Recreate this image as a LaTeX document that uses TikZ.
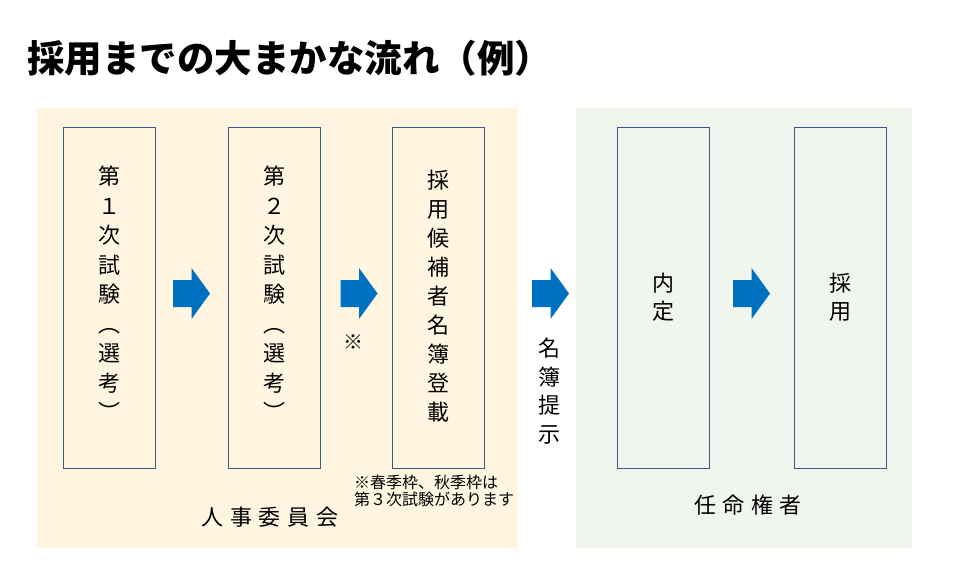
\documentclass[tikz,border=0pt]{standalone}
\usepackage{fontspec}
\setmainfont{Noto Sans CJK JP}
\usetikzlibrary{positioning,calc}

\definecolor{arrowblue}{HTML}{0070C0}
\definecolor{boxline}{HTML}{3C5A82}
\definecolor{creamfill}{HTML}{FFF5E1}
\definecolor{greenfill}{HTML}{F0F5EE}

\newcommand{\blockarrow}[1]{%
  \fill[arrowblue] ($(#1)+(-18.5,-13.5)$) -- ++(18.5,0) -- ++(0,-12) -- ++(18.5,25.5)
    -- ++(-18.5,25.5) -- ++(0,-12) -- ++(-18.5,0) -- cycle;}

\begin{document}
\begin{tikzpicture}[x=1pt, y=-1pt, node distance=73pt]
\tikzstyle{stage}=[draw=boxline, line width=0.8pt, minimum width=92pt, minimum height=341pt, inner sep=0pt, outer sep=0pt]
\tikzstyle{vtext}=[align=center, inner sep=0pt, font=\fontsize{22}{29.5}\selectfont]
\tikzstyle{panel}=[inner sep=0pt, anchor=north west]
\tikzstyle{group}=[inner sep=0pt, font=\fontsize{22}{26}\selectfont\addfontfeature{LetterSpace=30}]

\useasboundingbox (0,0) rectangle (960,562);
% panels
\node[panel, fill=creamfill, minimum width=481pt, minimum height=440pt] (jinji) at (37,108) {};
\node[panel, fill=greenfill, minimum width=336pt, minimum height=440pt] (ninmei) at (576,108) {};

% title
\node[anchor=west, inner sep=0pt, font=\fontsize{37.5}{40}\selectfont\bfseries] (title) at (27,58) {採用までの大まかな流れ（例）};

% stages
\node[stage] (s1) at (109,297.5) {};
\node[stage, right=of s1] (s2) {};
\node[stage, right=72pt of s2] (s3) {};
\node[stage, right=133pt of s3] (s4) {};
\node[stage, right=85pt of s4] (s5) {};

\node[vtext] (t1) at ([yshift=4pt]s1.center) {第\\１\\次\\試\\験\\︵\\選\\考\\︶};
\node[vtext] (t2) at ([yshift=4pt]s2.center) {第\\２\\次\\試\\験\\︵\\選\\考\\︶};
\node[vtext, font=\fontsize{22}{29}\selectfont] (t3) at ([yshift=1pt]s3.center) {採\\用\\候\\補\\者\\名\\簿\\登\\載};
\node[vtext, font=\fontsize{22}{28}\selectfont] (t4) at (s4.center) {内\\定};
\node[vtext, font=\fontsize{22}{28}\selectfont] (t5) at (s5.center) {採\\用};

% arrows
\coordinate (a1) at ($(s1.east)!0.5!(s2.west)+(0,-4)$);
\coordinate (a2) at ($(s2.east)!0.5!(s3.west)+(3,-4)$);
\coordinate (a3) at ($(s3.east)!0.5!(s4.west)+(0,-4)$);
\coordinate (a4) at ($(s4.east)!0.5!(s5.west)+(0,-4)$);
\foreach \a in {a1,a2,a3,a4} \blockarrow{\a};

\node[inner sep=0pt, font=\fontsize{20}{24}\selectfont] (kome) at (353,342) {※};
\node[vtext, font=\fontsize{22}{28.5}\selectfont] (teiji) at (549,391) {名\\簿\\提\\示};
\node[anchor=north west, align=left, inner sep=0pt, font=\fontsize{16}{17}\selectfont] (note) at (354,475) {※春季枠、秋季枠は\\第３次試験があります};

% groups
\node[group] (jinjilbl) at (270,517) {人事委員会};
\node[group] (ninmeilbl) at (748,505) {任命権者};
\end{tikzpicture}
\end{document}
